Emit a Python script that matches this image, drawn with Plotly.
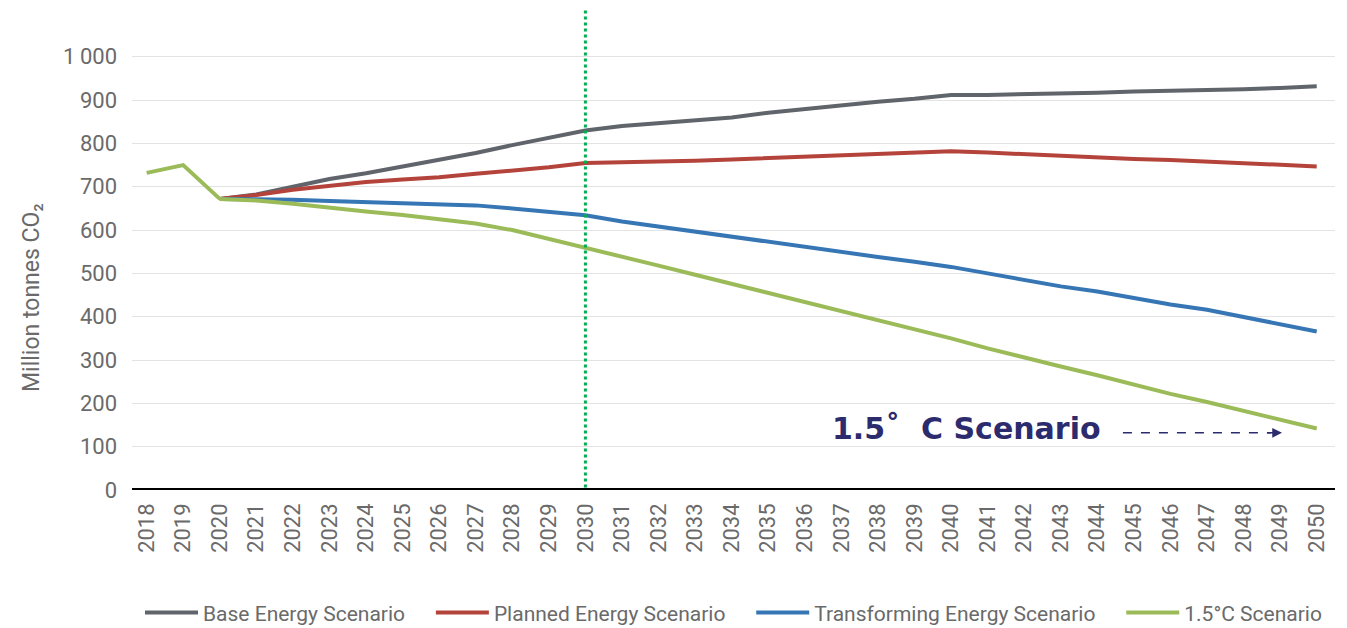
import plotly.graph_objects as go

years = list(range(2018, 2051))
hist_years = [2018, 2019, 2020]
hist_vals = [732, 750, 672]

proj_years = list(range(2020, 2051))
base = [672, 682, 700, 718, 731, 746, 762, 778, 796, 812, 830,
        840, 847, 852, 860, 871, 880, 888, 896, 903, 912,
        912, 913, 916, 917, 920, 921, 924, 925, 928, 932]
planned = [672, 681, 693, 703, 711, 717, 722, 730, 737, 745, 755,
           756, 758, 760, 763, 766, 768, 771, 774, 778, 782,
           779, 775, 771, 767, 764, 762, 758, 755, 751, 747]
transforming = [672, 672, 670, 667, 665, 662, 660, 657, 650, 643, 634,
                620, 608, 597, 585, 573, 562, 550, 538, 527, 515,
                500, 485, 470, 458, 443, 428, 416, 400, 384, 366]
onefive = [672, 668, 661, 651, 643, 635, 624, 615, 600, 580, 558,
           538, 518, 497, 476, 455, 434, 414, 393, 372, 350,
           327, 305, 285, 265, 243, 222, 203, 183, 162, 142]

ytick_vals = [0, 100, 200, 300, 400, 500, 600, 700, 800, 900, 1000]
ytick_text = ["0", "100", "200", "300", "400", "500", "600", "700", "800", "900", "1\u2009000"]

series = [
    ("Base Energy Scenario", base, "#60646b"),
    ("Planned Energy Scenario", planned, "#b4443b"),
    ("Transforming Energy Scenario", transforming, "#3676b4"),
]
green = "#9bbb59"
navy = "#2b2b6e"
txt = "#6a6a6a"
pad = "\u00a0" * 4

W, H = 1339, 620
L, R, T, B = 124, 12, 2, 138
PW, PH = W - L - R, H - T - B

fig = go.Figure()
for name, vals, col in series:
    fig.add_trace(go.Scatter(x=proj_years, y=vals, mode="lines", name=name + pad,
                             line=dict(color=col, width=4)))
fig.add_trace(go.Scatter(x=proj_years, y=onefive, mode="lines", name="1.5\u00b0C Scenario",
                         line=dict(color=green, width=4)))
fig.add_trace(go.Scatter(x=hist_years, y=hist_vals, mode="lines", showlegend=False,
                         line=dict(color=green, width=4)))

# baseline
fig.add_shape(type="line", xref="paper", yref="y", x0=0, x1=1, y0=0, y1=0,
              line=dict(color="black", width=4))
# 2030 dotted marker
fig.add_shape(type="line", xref="x", yref="paper", x0=2030, x1=2030, y0=0.005, y1=1,
              line=dict(color="#00b050", width=3, dash="dot"))
# dashed arrow
fig.add_shape(type="line", xref="x", yref="y", x0=2044.7, x1=2048.75, y0=132, y1=132,
              line=dict(color=navy, width=1.5, dash="dash"))
fig.add_annotation(x=2049.05, y=132, ax=2048.6, ay=132, xref="x", yref="y",
                   axref="x", ayref="y", text="", showarrow=True,
                   arrowhead=2, arrowsize=1.3, arrowwidth=1.5, arrowcolor=navy)
fig.add_annotation(x=2040.42, y=143, xref="x", yref="y", text="<b>1.5\u02da  C Scenario</b>",
                   showarrow=False, font=dict(family="DejaVu Sans, sans-serif", size=30, color=navy))
# y-axis title
fig.add_annotation(xref="paper", yref="paper", x=(23 - L) / PW, y=(PH + T - 290) / PH,
                   xanchor="center", yanchor="middle", text="Million tonnes CO\u2082",
                   showarrow=False, textangle=-90, font=dict(size=23, color=txt))

fig.update_layout(
    width=W, height=H,
    paper_bgcolor="white", plot_bgcolor="white",
    margin=dict(l=L, r=R, t=T, b=B, autoexpand=False),
    font=dict(family="Roboto, sans-serif", color=txt),
    showlegend=True,
    legend=dict(orientation="h", x=0.5, xanchor="center", y=-0.256, yanchor="middle",
                font=dict(size=21, color=txt), tracegroupgap=0, itemwidth=53),
    xaxis=dict(range=[2017.6, 2050.5], tickmode="array", tickvals=years,
               ticktext=[str(y) for y in years], tickangle=-90, showgrid=False,
               zeroline=False, showline=False, automargin=False, ticklabelstandoff=8,
               tickfont=dict(size=22, color=txt)),
    yaxis=dict(range=[0, 1108], tickmode="array", tickvals=ytick_vals, ticktext=ytick_text,
               showgrid=True, gridcolor="#e3e3e3", gridwidth=1, zeroline=False,
               showline=False, automargin=False, tickfont=dict(size=22, color=txt), ticks="",
               ticklabelstandoff=14),
)

fig.write_html("out.html")
